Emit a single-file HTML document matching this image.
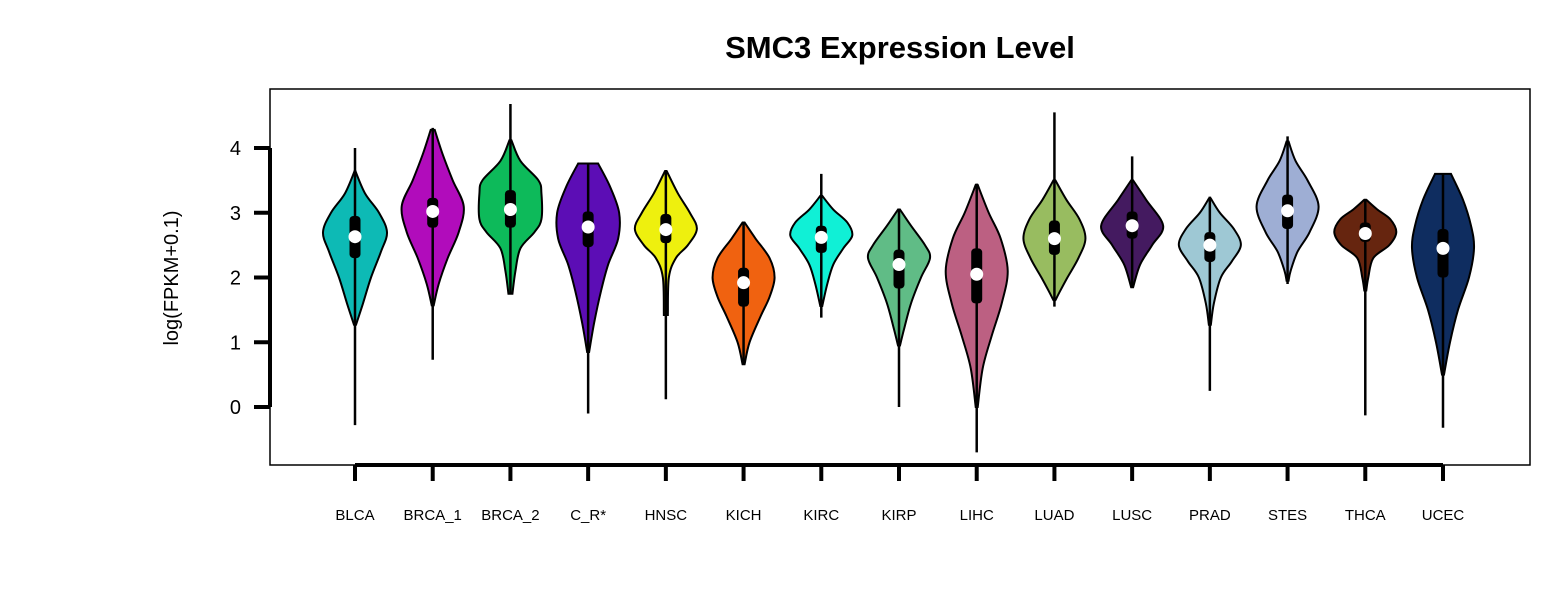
<!DOCTYPE html>
<html><head><meta charset="utf-8"><style>
body{margin:0;background:#fff}
svg text{font-family:"Liberation Sans",Arial,sans-serif}
</style></head><body>
<svg id="chart" width="1560" height="586" viewBox="0 0 1560 586" xmlns="http://www.w3.org/2000/svg">
<rect width="1560" height="586" fill="#fff"/>
<text x="900" y="58" font-size="31" font-weight="bold" text-anchor="middle">SMC3 Expression Level</text>
<rect x="270" y="89" width="1260" height="376" fill="none" stroke="#000" stroke-width="1.5"/>
<text transform="translate(178,278) rotate(-90)" font-size="20" text-anchor="middle">log(FPKM+0.1)</text>
<g id="axes"></g>
<g id="violins"></g>
</svg>
<script>
const categories=["BLCA","BRCA_1","BRCA_2","C_R*","HNSC","KICH","KIRC","KIRP","LIHC","LUAD","LUSC","PRAD","STES","THCA","UCEC"];
const colors=["#0dbab5","#b10cbb","#0dba5a","#5c0db5","#eef00e","#f06210","#10f0d6","#60bc86","#bc6082","#98bc60","#441a60","#9ec8d4","#9eaed4","#66250f","#0f2d60"];
const mins=[-0.28,0.73,1.75,-0.1,0.12,0.65,1.38,0.0,-0.7,1.55,1.85,0.25,1.9,-0.13,-0.32];
const maxs=[4.0,4.31,4.68,3.76,3.66,2.86,3.6,3.05,3.45,4.55,3.87,3.25,4.18,3.2,3.6];
const medians=[2.63,3.02,3.05,2.78,2.74,1.92,2.62,2.2,2.05,2.6,2.8,2.5,3.03,2.68,2.45];
const q1s=[2.3,2.77,2.77,2.47,2.53,1.55,2.38,1.83,1.6,2.35,2.6,2.24,2.75,2.55,2.0];
const q3s=[2.95,3.23,3.35,3.02,2.98,2.15,2.8,2.43,2.45,2.88,3.02,2.7,3.28,2.85,2.75];
const profiles=[
[[3.66,0],[3.3,10],[3.0,24],[2.7,32],[2.4,26],[2.0,16],[1.6,8],[1.27,1]],
[[4.28,2],[3.9,10],[3.5,20],[3.1,31],[2.7,26],[2.3,15],[1.9,6],[1.57,1]],
[[4.12,1],[3.8,10],[3.5,28],[3.3,31],[2.9,31],[2.7,24],[2.45,10],[2.1,5],[1.75,2]],
[[3.76,10],[3.4,22],[3.0,31],[2.6,30],[2.2,20],[1.8,13],[1.3,6],[0.85,1]],
[[3.64,1],[3.3,12],[3.0,24],[2.75,31],[2.5,22],[2.3,10],[2.0,3],[1.42,2]],
[[2.85,1],[2.6,12],[2.3,26],[2.0,31],[1.7,26],[1.4,17],[1.0,6],[0.66,1]],
[[3.26,1],[3.05,12],[2.85,26],[2.65,31],[2.45,22],[2.2,12],[1.9,6],[1.56,1]],
[[3.05,1],[2.8,12],[2.5,26],[2.3,31],[2.0,22],[1.6,12],[1.2,5],[0.95,1]],
[[3.43,1],[3.0,12],[2.6,24],[2.1,31],[1.6,25],[1.1,15],[0.6,6],[0.0,1]],
[[3.5,1],[3.2,12],[2.9,25],[2.6,31],[2.3,24],[2.0,13],[1.8,6],[1.65,1]],
[[3.5,1],[3.2,14],[2.8,31],[2.5,20],[2.2,8],[1.85,1]],
[[3.22,1],[3.0,10],[2.75,24],[2.5,31],[2.25,22],[2.0,11],[1.6,4],[1.27,1]],
[[4.1,1],[3.8,8],[3.5,20],[3.1,31],[2.7,22],[2.4,10],[2.1,3],[1.95,1]],
[[3.2,1],[3.05,12],[2.9,25],[2.7,31],[2.5,24],[2.3,8],[2.0,3],[1.8,1]],
[[3.6,8],[3.2,20],[2.8,28],[2.45,31],[2.0,26],[1.5,15],[1.0,7],[0.5,1]]];
const yTicks=[0,1,2,3,4];

const NS="http://www.w3.org/2000/svg";
const y=v=>407-64.75*v;
const x=i=>355+i*(1443-355)/(categories.length-1);
function mk(tag,attrs,parent){const e=document.createElementNS(NS,tag);for(const k in attrs)e.setAttribute(k,attrs[k]);parent.appendChild(e);return e;}
const axes=document.getElementById('axes'), vg=document.getElementById('violins');

const yl=mk('line',{x1:270,x2:270,y1:y(yTicks[0]),y2:y(yTicks[yTicks.length-1]),stroke:'#000','stroke-width':4},axes);


yTicks.forEach(t=>{
 const l=mk('line',{x1:254,x2:270,y1:y(t),y2:y(t),stroke:'#000','stroke-width':4},axes);
 
 
 const tx=mk('text',{x:241,y:y(t)+7,'font-size':20,'text-anchor':'end'},axes);tx.textContent=t;
 
 
});
const xl=mk('line',{x1:x(0),x2:x(categories.length-1),y1:465,y2:465,stroke:'#000','stroke-width':4},axes);



function spline(pts){let d=`M${pts[0][0]},${pts[0][1]}`;for(let i=0;i<pts.length-1;i++){const p0=pts[Math.max(0,i-1)],p1=pts[i],p2=pts[i+1],p3=pts[Math.min(pts.length-1,i+2)];
 const c1=[p1[0]+(p2[0]-p0[0])/6,p1[1]+(p2[1]-p0[1])/6],c2=[p2[0]-(p3[0]-p1[0])/6,p2[1]-(p3[1]-p1[1])/6];
 d+=` C${c1[0]},${c1[1]} ${c2[0]},${c2[1]} ${p2[0]},${p2[1]}`;}return d;}

categories.forEach((c,i)=>{
 const cx=x(i);
 const t=mk('line',{x1:cx,x2:cx,y1:465,y2:481,stroke:'#000','stroke-width':4},axes);
 
 
 const lb=mk('text',{x:cx,y:520,'font-size':15,'text-anchor':'middle'},axes);lb.textContent=c;
 
 
 const g=mk('g',{},vg);
 
 
 const p=profiles[i];
 const right=p.map(q=>[cx+q[1],y(q[0])]);
 const left=p.slice().reverse().map(q=>[cx-q[1],y(q[0])]);
 const top=p[0], bot=p[p.length-1];
 let d=spline(right)+` L${cx-bot[1]},${y(bot[0])} `+spline(left).replace(/^M/,'L')+' Z';
 mk('path',{d:d,fill:colors[i],stroke:'#000','stroke-width':2},g);
 mk('line',{x1:cx,x2:cx,y1:y(mins[i]),y2:y(maxs[i]),stroke:'#000','stroke-width':2.5},g);
 mk('rect',{x:cx-5.5,y:y(q3s[i]),width:11,height:y(q1s[i])-y(q3s[i]),rx:4,fill:'#000'},g);
 mk('circle',{cx:cx,cy:y(medians[i]),r:6.5,fill:'#fff'},g);
});
</script>
</body></html>
